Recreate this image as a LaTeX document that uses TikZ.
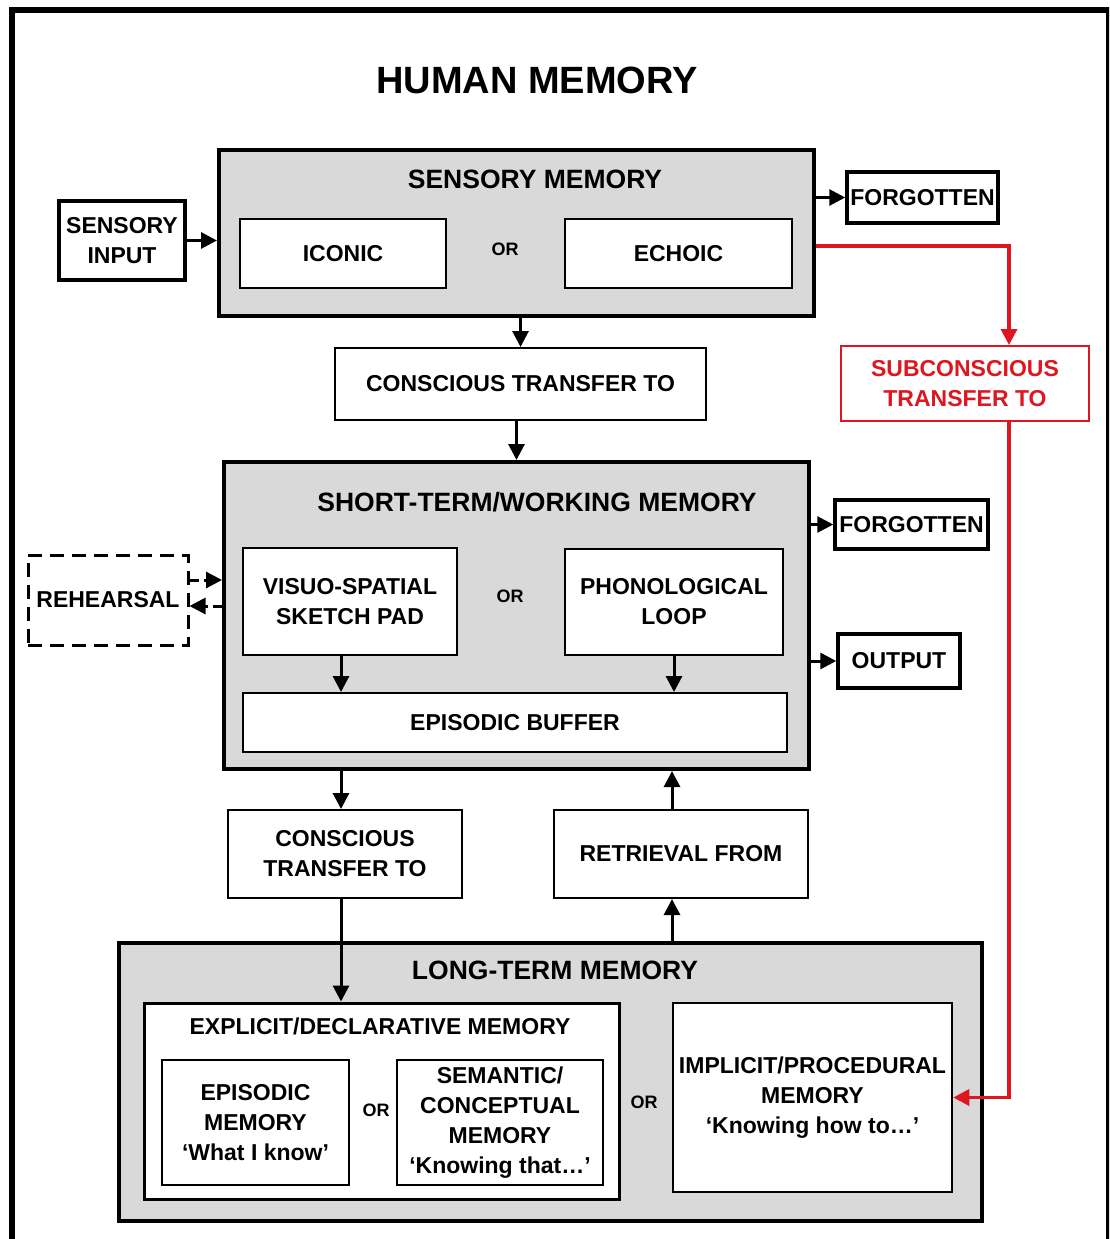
\documentclass[tikz,border=0pt]{standalone}
\usepackage{fontspec}
\setmainfont{Liberation Sans}
\usetikzlibrary{arrows.meta}
\definecolor{panel}{gray}{0.85}
\definecolor{xfer}{RGB}{222,22,32}

\begin{document}
\begin{tikzpicture}[x=1pt,y=-1pt,
  every node/.style={font=\bfseries\fontsize{23}{30}\selectfont, align=center, inner sep=0pt, rectangle},
  section/.style={draw, line width=4pt, fill=panel},
  box/.style={draw, line width=2pt, fill=white},
  tag/.style={draw, line width=3.5pt, fill=white},
  heading/.style={font=\bfseries\fontsize{26.5}{30}\selectfont},
  ortext/.style={font=\bfseries\fontsize{18}{20}\selectfont},
  arr/.style={line width=3pt, -{Triangle[length=16pt,width=16pt]}},
  redarr/.style={arr, line width=3.5pt, draw=xfer, color=xfer},
  dasharr/.style={arr, dash pattern=on 9pt off 5pt},
]
\clip (0,0) rectangle (1109,1239);
\fill[white] (0,0) rectangle (1109,1239);

% page frame
\draw[line width=6pt] (12,1245) -- (12,10) -- (1109,10) -- (1109,1245);

\node[font=\bfseries\fontsize{38}{40}\selectfont] (title) at (537,80) {HUMAN MEMORY};

% ---------- sensory memory ----------
\node[section, minimum width=595, minimum height=166] (sm) at (516.5,233) {};
\node[heading] (smt) at (535,179) {SENSORY MEMORY};
\node[box, minimum width=206, minimum height=69] (ic) at (343,253.5) {ICONIC};
\node[ortext] (or1) at (505,249) {OR};
\node[box, minimum width=227, minimum height=69] (ec) at (678.5,253.5) {ECHOIC};

\node[tag, minimum width=126, minimum height=79] (si) at (122,240.5) {SENSORY\\INPUT};
\node[tag, minimum width=151, minimum height=51] (f1) at (922.5,197.5) {FORGOTTEN};

\node[box, minimum width=371, minimum height=72] (ct1) at (520.5,384) {CONSCIOUS TRANSFER TO};
\node[box, draw=xfer, text=xfer, minimum width=248, minimum height=75] (sub) at (965,383.5) {SUBCONSCIOUS\\TRANSFER TO};

% ---------- short-term / working memory ----------
\node[section, minimum width=585, minimum height=307] (stm) at (516.5,615.5) {};
\node[heading] (stmt) at (537,502) {SHORT-TERM/WORKING MEMORY};
\node[box, minimum width=214, minimum height=107] (vs) at (350,601.5) {VISUO-SPATIAL\\SKETCH PAD};
\node[ortext] (or2) at (510,596) {OR};
\node[box, minimum width=218, minimum height=106] (ph) at (674,602) {PHONOLOGICAL\\LOOP};
\node[box, minimum width=544, minimum height=59] (eb) at (515,722.5) {EPISODIC BUFFER};

\node[tag, minimum width=153, minimum height=49] (f2) at (911.5,524.5) {FORGOTTEN};
\node[tag, minimum width=122, minimum height=54] (out) at (899,661) {OUTPUT};
\node[draw, line width=3pt, dash pattern=on 14pt off 8pt, minimum width=160, minimum height=90] (reh) at (108,600) {REHEARSAL};

\node[box, minimum width=234, minimum height=88] (ct2) at (345,854) {CONSCIOUS\\TRANSFER TO};
\node[box, minimum width=254, minimum height=88] (ret) at (681,854) {RETRIEVAL FROM};

% ---------- long-term memory ----------
\node[section, minimum width=863, minimum height=278] (ltm) at (550.5,1082) {};
\node[heading] (ltmt) at (555,970) {LONG-TERM MEMORY};
\node[draw, line width=3pt, fill=white, minimum width=475, minimum height=196] (ex) at (381.5,1101) {};
\node (ext) at (380,1026) {EXPLICIT/DECLARATIVE MEMORY};
\node[box, minimum width=187, minimum height=125] (epi) at (255.5,1122.5) {EPISODIC\\MEMORY\\‘What I know’};
\node[ortext] (or3) at (376,1110) {OR};
\node[box, minimum width=206, minimum height=125] (sem) at (500,1122.5) {SEMANTIC/\\CONCEPTUAL\\MEMORY\\‘Knowing that…’};
\node[ortext] (or4) at (644,1102) {OR};
\node[draw, line width=2.5pt, fill=white, minimum width=279, minimum height=189] (ip) at (812.5,1097.5) {IMPLICIT/PROCEDURAL\\MEMORY\\‘Knowing how to…’};

% ---------- connectors ----------
\draw[arr] (si.east) -- (si.east -| sm.west);
\draw[arr] (sm.east |- f1.west) -- (f1.west);
\draw[arr] (sm.south -| ct1.north) -- (ct1.north);
\draw[arr] (ct1.south -| stm.north) -- (stm.north);
\draw[redarr] ([yshift=-13pt]sm.east) -| ([xshift=44pt]sub.north);
\draw[redarr] ([xshift=44pt]sub.south) |- (ip.east);

\draw[arr] (stm.east |- f2.west) -- (f2.west);
\draw[arr] (stm.east |- out.west) -- (out.west);
\draw[dasharr] ([yshift=20pt]reh.east) -- ([yshift=20pt]reh.east -| stm.west);
\draw[dasharr] ([yshift=-6pt]reh.east -| stm.west) -- ([yshift=-6pt]reh.east);
\draw[arr] ([xshift=-9pt]vs.south) -- ([xshift=-9pt]vs.south |- eb.north);
\draw[arr] (ph.south) -- (ph.south |- eb.north);

\draw[arr] ([xshift=-4pt]ct2.north |- stm.south) -- ([xshift=-4pt]ct2.north);
\draw[arr] ([xshift=-4pt]ct2.south) -- ([xshift=-4pt]ct2.south |- ex.north);
\draw[arr] ([xshift=-9pt]ret.north) -- ([xshift=-9pt]ret.north |- stm.south);
\draw[arr] ([xshift=-9pt]ret.south |- ltm.north) -- ([xshift=-9pt]ret.south);
\end{tikzpicture}
\end{document}
